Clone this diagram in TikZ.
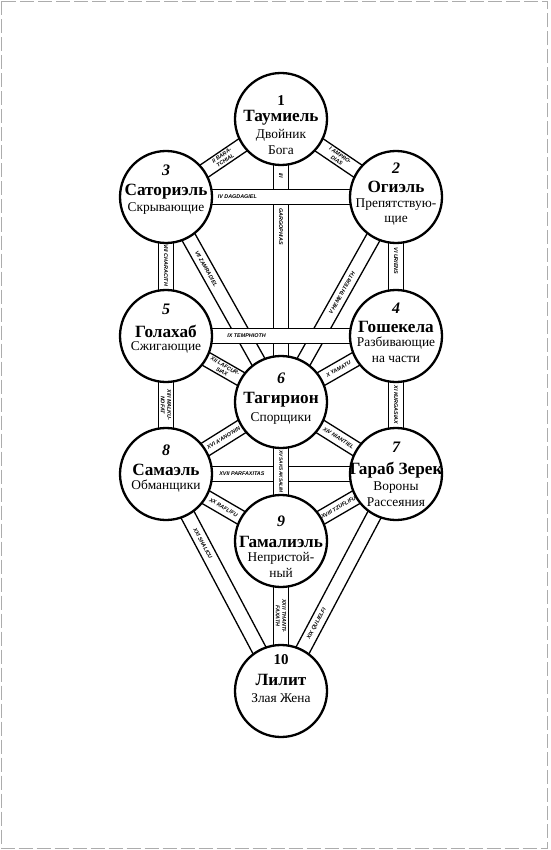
\documentclass[tikz,border=0pt]{standalone}
\usepackage{fontspec}
\setmainfont{Liberation Serif}
\newfontfamily\pathfont{Liberation Sans}
\usetikzlibrary{calc,backgrounds}
\tikzset{
  sephira/.style={circle, draw, line width=2.3pt, fill=white, minimum size=92pt, inner sep=0pt},
  bandline/.style={line width=1.3pt, fill=white, line join=round},
  num/.style={font=\fontsize{16}{16}\selectfont\bfseries\itshape, inner sep=0pt},
  numup/.style={font=\fontsize{15}{15}\selectfont\bfseries, inner sep=0pt},
  ttl/.style={font=\fontsize{17.2}{18}\selectfont\bfseries, inner sep=0pt},
  subt/.style={font=\fontsize{13.4}{15.8}\selectfont, inner sep=0pt, align=center},
  plabel/.style={font=\pathfont\fontsize{5.4}{6.4}\selectfont\bfseries\itshape, inner sep=0pt, align=center},
  frame/.style={draw=gray!65, line width=0.9pt, dash pattern=on 14pt off 4pt}
}
\newcommand\band[2]{%
  \filldraw[bandline] ($(#1.center)!7.3pt!90:(#2.center)$) -- ($(#2.center)!7.3pt!-90:(#1.center)$)
    -- ($(#2.center)!7.3pt!90:(#1.center)$) -- ($(#1.center)!7.3pt!-90:(#2.center)$) -- cycle;}
\begin{document}
\begin{tikzpicture}[x=1pt,y=-1pt]
\useasboundingbox (0,0) rectangle (550,850);
\draw[frame] (1.5,1.5) rectangle (547.5,848.5);

% sephiroth
\node[sephira] (n1) at (281,119) {};
\node[sephira] (n3) at (166,197) {};
\node[sephira] (n2) at (396,197) {};
\node[sephira] (n5) at (166,336) {};
\node[sephira] (n4) at (396,336) {};
\node[sephira] (n6) at (281,402) {};
\node[sephira] (n8) at (166,474) {};
\node[sephira] (n7) at (396,474) {};
\node[sephira] (n9) at (281,541) {};
\node[sephira] (n10) at (281,691) {};

\begin{scope}[on background layer]
  \band{n1}{n3}\band{n1}{n2}\band{n1}{n6}
  \band{n3}{n6}\band{n2}{n6}
  \band{n3}{n5}\band{n2}{n4}
  \band{n5}{n6}\band{n4}{n6}
  \band{n5}{n8}\band{n4}{n7}
  \band{n6}{n8}\band{n6}{n7}
  \band{n8}{n10}\band{n7}{n10}
  \band{n8}{n9}\band{n7}{n9}
  \band{n9}{n10}
  \band{n3}{n2}\band{n5}{n4}
  \band{n8}{n7}\band{n6}{n9}
\end{scope}

% texts in circles
\node[numup] (t1a) at ([yshift=18pt]n1.center) {1};
\node[ttl] (t1b) at ([yshift=1pt]n1.center) {Таумиель};
\node[subt] (t1c) at ([yshift=-23pt]n1.center) {Двойник\\Бога};

\node[num] (t3a) at ([yshift=27pt]n3.center) {3};
\node[ttl] (t3b) at ([yshift=5pt]n3.center) {Саториэль};
\node[subt] (t3c) at ([yshift=-11pt]n3.center) {Скрывающие};

\node[num] (t2a) at ([yshift=29pt]n2.center) {2};
\node[ttl] (t2b) at ([yshift=10pt]n2.center) {Огиэль};
\node[subt] (t2c) at ([yshift=-15pt]n2.center) {Препятствую-\\щие};

\node[num] (t5a) at ([yshift=27pt]n5.center) {5};
\node[ttl] (t5b) at ([yshift=5pt]n5.center) {Голахаб};
\node[subt] (t5c) at ([yshift=-11pt]n5.center) {Сжигающие};

\node[num] (t4a) at ([yshift=28pt]n4.center) {4};
\node[ttl] (t4b) at ([yshift=9pt]n4.center) {Гошекела};
\node[subt] (t4c) at ([yshift=-14pt]n4.center) {Разбивающие\\на части};

\node[num] (t6a) at ([yshift=24pt]n6.center) {6};
\node[ttl] (t6b) at ([yshift=2pt]n6.center) {Тагирион};
\node[subt] (t6c) at ([yshift=-16pt]n6.center) {Спорщики};

\node[num] (t8a) at ([yshift=24pt]n8.center) {8};
\node[ttl] (t8b) at ([yshift=4pt]n8.center) {Самаэль};
\node[subt] (t8c) at ([yshift=-12pt]n8.center) {Обманщики};

\node[num] (t7a) at ([yshift=27pt]n7.center) {7};
\node[ttl] (t7b) at ([yshift=4pt]n7.center) {Гараб Зерек};
\node[subt] (t7c) at ([yshift=-20pt]n7.center) {Вороны\\Рассеяния};

\node[num] (t9a) at ([yshift=20pt]n9.center) {9};
\node[ttl] (t9b) at ([yshift=-1pt]n9.center) {Гамалиэль};
\node[subt] (t9c) at ([yshift=-24pt]n9.center) {Непристой-\\ный};

\node[numup] (t10a) at ([yshift=31pt]n10.center) {10};
\node[ttl] (t10b) at ([yshift=11pt]n10.center) {Лилит};
\node[subt] (t10c) at ([yshift=-7pt]n10.center) {Злая Жена};

% path labels
\path (n1.center) -- (n3.center) node[plabel, sloped, pos=0.5] {II BARA-\\TCHIAL};
\path (n1.center) -- (n2.center) node[plabel, sloped, pos=0.5] {I AMPRO-\\DIAS};
\node[plabel, rotate=-90] (l3) at ($(n1.center)!0.2!(n6.center)$) {III};
\node[plabel, rotate=-90] (l3b) at ($(n1.center)!0.38!(n6.center)$) {GARGOPHIAS};
\path (n3.center) -- (n2.center) node[plabel, pos=0.31] {IV DAGDAGIEL};
\path (n2.center) -- (n6.center) node[plabel, sloped, pos=0.47] {V HEMETHTERITH};
\node[plabel, rotate=-90] (l6) at ($(n2.center)!0.46!(n4.center)$) {VI URIENS};
\path (n3.center) -- (n6.center) node[plabel, sloped, pos=0.35] {VII ZAMRADIEL};
\node[plabel, rotate=-90] (l8) at ($(n3.center)!0.49!(n5.center)$) {VIII CHARACITH};
\path (n5.center) -- (n4.center) node[plabel, pos=0.35] {IX TEMPHIOTH};
\path (n4.center) -- (n6.center) node[plabel, sloped, pos=0.5] {X YAMATU};
\node[plabel, rotate=-90] (l11) at ($(n4.center)!0.5!(n7.center)$) {XI KURGASIAX};
\path (n5.center) -- (n6.center) node[plabel, sloped, pos=0.5] {XII LAFCUR-\\SIAX};
\node[plabel, rotate=-90] (l13) at ($(n5.center)!0.5!(n8.center)$) {XIII MALKU-\\NOFAT};
\path (n6.center) -- (n7.center) node[plabel, sloped, pos=0.5] {XIV NIANTIEL};
\node[plabel, rotate=-90, font=\pathfont\fontsize{4.8}{5.6}\selectfont\bfseries\itshape] (l15) at ($(n6.center)!0.5!(n9.center)$) {XV SAKSAKSALIM};
\path (n6.center) -- (n8.center) node[plabel, sloped, pos=0.5] {XVI A'ANO'NIN};
\path (n8.center) -- (n7.center) node[plabel, pos=0.33] {XVII PARFAXITAS};
\path (n7.center) -- (n9.center) node[plabel, sloped, pos=0.5] {XVIII TZUFLIFU};
\path (n7.center) -- (n10.center) node[plabel, sloped, pos=0.69] {XIX QULIELFI};
\path (n8.center) -- (n9.center) node[plabel, sloped, pos=0.5] {XX RAFLIFU};
\path (n8.center) -- (n10.center) node[plabel, sloped, pos=0.32] {XXI SHALICU};
\node[plabel, rotate=-90] (l22) at ($(n9.center)!0.5!(n10.center)$) {XXII THANTI-\\FAXATH};
\end{tikzpicture}
\end{document}
